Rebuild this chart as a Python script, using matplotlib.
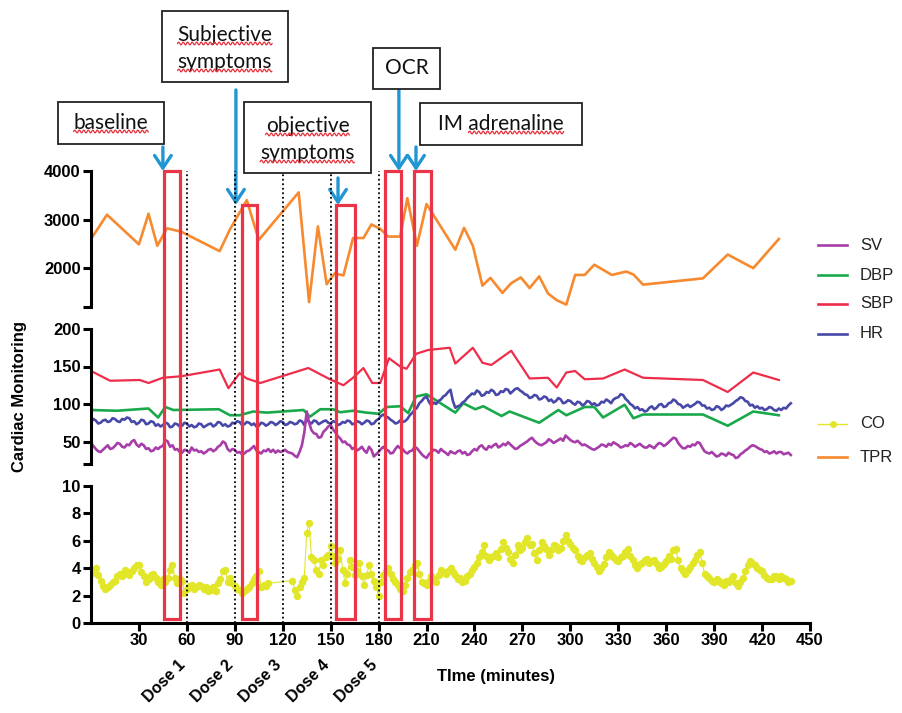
import matplotlib
matplotlib.use('Agg')
import matplotlib.pyplot as plt
import numpy as np
from matplotlib.patches import Rectangle
from matplotlib.lines import Line2D
from matplotlib.transforms import blended_transform_factory
from matplotlib.font_manager import FontProperties

plt.rcParams['font.family'] = ['Liberation Sans', 'DejaVu Sans']

# --- total peripheral resistance (top panel) ---
tpr_time = [0, 10, 30, 36, 41.5, 47.5, 56.5, 80.5, 87, 97.5, 105, 130, 136.5, 142,
            147.5, 152.5, 158, 164, 170.5, 175.5, 181, 186, 193.5, 198, 204, 210,
            228, 233.5, 239, 245, 250, 257.5, 263, 269, 274.5, 280.5, 286, 291.5,
            297.5, 303, 309, 315, 326, 335, 339.5, 345.5, 383, 398.5, 414.5, 430.5]
tpr = [2600, 3100, 2490, 3120, 2460, 2820, 2750, 2350, 2800, 3400, 2580, 3560, 1300, 2860,
       1670, 1890, 1850, 2620, 2620, 2900, 2810, 2650, 2650, 3440, 2460, 3320,
       2380, 2830, 2460, 1640, 1800, 1490, 1690, 1810, 1590, 1830, 1480, 1340,
       1250, 1860, 1860, 2070, 1860, 1930, 1870, 1660, 1790, 2280, 2000, 2600]

# --- blood pressure (middle panel) ---
sbp_time = [0, 12, 30.5, 36, 45, 56.5, 80.5, 86, 93, 97.5, 106, 136, 149.5, 158, 164,
            170.5, 176, 181, 186.5, 193.5, 197.5, 203.5, 211, 224.5, 228, 239, 245,
            250.5, 263, 274.5, 286, 291.5, 297.5, 303, 309, 320.5, 334, 345.5, 383,
            398.5, 414.5, 430.5]
sbp = [144, 131, 132, 128, 135, 137, 146, 121, 141, 134, 128, 148, 133, 125, 135,
       148, 128, 128, 161, 150, 147, 167, 172, 175, 154, 175, 155,
       152, 171, 134, 135, 122, 142, 144, 133, 134, 146, 135, 132,
       116, 142, 132]

dbp_time = [0, 16, 36, 42, 46.5, 51.5, 80, 87, 93, 101.5, 110, 133, 137, 143.5, 151.5,
            156, 164, 172.5, 180, 185, 193.5, 198.5, 203.5, 210, 228, 233, 240.5,
            245.5, 257, 262, 280.5, 292.5, 297.5, 309, 315, 320.5, 334, 339.5, 345.5,
            383, 398.5, 414.5, 430.5]
dbp = [92, 91, 94, 82, 96, 92, 93, 85, 85, 90, 88.5, 92, 83, 93, 93,
       89, 91, 88.5, 87, 96, 97, 88, 110, 113, 88.5, 101, 93,
       97, 84, 90, 75, 92, 85, 96, 96, 82, 99, 81, 86,
       86, 71, 90, 85]

# heart rate and stroke volume, every 1.5 min from t = 0 (one row = 30 min)
hr = [76, 80, 78, 74, 75, 78, 79, 76, 77, 81, 80, 77, 76, 80, 79, 82, 81, 76, 77, 73,
      75, 79, 78, 73, 74, 77, 76, 71, 73, 70, 72, 75, 74, 69, 70, 74, 73, 70, 71, 75,
      74, 70, 72, 69, 70, 74, 73, 69, 71, 73, 74, 70, 72, 76, 75, 71, 73, 70, 71, 75,
      74, 77, 76, 72, 73, 76, 75, 72, 74, 70, 71, 75, 74, 71, 73, 76, 75, 72, 74, 77,
      76, 72, 73, 76, 75, 73, 74, 78, 77, 72, 80, 76, 74, 78, 77, 73, 75, 77, 78, 75,
      74, 77, 76, 72, 73, 76, 75, 78, 77, 73, 74, 77, 76, 73, 75, 78, 77, 73, 74, 78,
      80, 84, 86, 83, 82, 79, 77, 74, 75, 78, 76, 77, 80, 85, 88, 92, 95, 101, 104, 108,
      110, 103, 98, 102, 100, 104, 106, 110, 112, 116, 119, 104, 95, 97, 98, 102, 104, 108, 111, 114,
      113, 118, 116, 111, 112, 116, 115, 119, 117, 112, 113, 117, 116, 120, 119, 114, 117, 120, 121, 118,
      116, 113, 112, 108, 109, 112, 111, 106, 107, 110, 109, 104, 106, 102, 104, 108, 106, 101, 102, 105,
      104, 101, 99, 103, 102, 98, 100, 104, 103, 99, 101, 98, 99, 103, 102, 106, 104, 101, 106, 108,
      109, 113, 112, 107, 104, 100, 98, 94, 96, 92, 93, 90, 91, 95, 97, 93, 95, 99, 100, 96,
      97, 101, 102, 106, 104, 100, 99, 95, 97, 99, 96, 98, 100, 103, 102, 98, 98, 94, 95, 92,
      93, 97, 96, 92, 94, 98, 97, 99, 101, 104, 106, 109, 108, 104, 103, 98, 99, 95, 97, 94,
      95, 92, 93, 96, 95, 92, 91, 94, 92, 95, 94, 98, 101]

sv = [48, 44, 40, 37, 36, 39, 42, 45, 40, 41, 44, 48, 47, 43, 42, 46, 45, 50, 52, 46,
      43, 47, 45, 40, 41, 37, 38, 42, 40, 43, 44, 52, 50, 43, 45, 39, 40, 36, 35, 39,
      38, 35, 42, 38, 39, 36, 37, 34, 36, 39, 40, 37, 39, 43, 45, 50, 48, 40, 37, 40,
      39, 35, 36, 33, 34, 37, 38, 41, 44, 38, 36, 34, 38, 37, 40, 36, 39, 35, 38, 36,
      37, 39, 36, 35, 34, 31, 29, 36, 45, 62, 90, 75, 65, 61, 60, 55, 56, 63, 66, 70,
      72, 66, 62, 57, 54, 49, 50, 46, 45, 40, 42, 38, 40, 43, 38, 35, 43, 39, 30, 33,
      36, 40, 43, 39, 38, 34, 35, 40, 44, 41, 40, 36, 34, 37, 38, 43, 41, 37, 33, 30,
      28, 33, 36, 39, 38, 35, 40, 37, 35, 32, 37, 35, 34, 37, 38, 34, 36, 32, 33, 37,
      40, 38, 43, 45, 41, 39, 44, 42, 45, 47, 42, 44, 47, 45, 49, 46, 43, 40, 41, 44,
      46, 48, 50, 53, 55, 51, 48, 46, 45, 47, 49, 53, 51, 48, 50, 52, 54, 51, 58, 55,
      52, 50, 49, 51, 48, 45, 46, 44, 42, 40, 39, 41, 43, 46, 45, 43, 47, 45, 49, 47,
      45, 42, 43, 45, 44, 48, 46, 43, 45, 47, 44, 42, 42, 45, 43, 41, 45, 48, 47, 44,
      46, 49, 52, 55, 54, 48, 44, 41, 41, 44, 43, 46, 45, 49, 48, 42, 37, 35, 34, 36,
      33, 30, 31, 34, 33, 31, 35, 33, 32, 28, 29, 33, 35, 38, 40, 43, 45, 44, 42, 40,
      39, 36, 37, 34, 35, 37, 34, 36, 36, 33, 34, 35, 32]

# --- cardiac output (bottom panel), every 1.5 min, None = no reading ---
co = [3.6, 3.9, 4.0, 3.5, 3.1, 2.7, 2.5, 2.6, 2.8, 3.0, 3.1, 3.4, 3.6, 3.4, 3.9, 3.7, 3.5, 3.8, 4.0, 4.2,
      4.2, 3.7, 3.4, 3.0, 3.2, 3.5, 3.6, 3.3, 3.0, 2.8, 3.2, 3.0, 3.3, 3.9, 4.2, 3.3, 2.9, 3.2, 3.1, 2.2,
      2.5, 2.7, 2.8, 2.5, 2.6, 2.8, 2.7, 2.5, 2.6, 2.3, 2.4, 2.6, 2.3, 2.9, 3.2, 3.8, 3.9, 3.0, 3.3, 2.9,
      2.7, 2.5, 2.4, 2.2, 2.3, 2.5, 2.6, 2.9, 3.2, 3.4, 3.8, 2.6, 2.8, 2.7, 2.9, None, None, None, None, None,
      None, None, None, None, 3.1, 2.4, 2.0, 2.6, 3.0, 3.3, 6.6, 7.3, 4.8, 4.6, 3.9, 3.6, 4.6, 4.2, 4.8, 5.0,
      5.6, 4.9, 4.4, 4.7, 5.3, 3.9, 2.9, 3.6, 4.6, 4.1, 3.5, 3.8, 4.4, 3.4, 2.8, 3.5, 4.2, 3.6, 3.1, 2.6,
      2.0, 3.0, 3.5, 3.8, 4.0, 3.6, 3.2, 3.0, 2.8, 2.5, 2.3, 2.8, 3.3, 3.7, 3.9, 4.2, 4.4, 3.6, 3.0, 2.9,
      2.8, 3.1, 3.4, 3.2, 3.0, 3.5, 3.9, 3.7, 3.6, 3.8, 4.0, 3.7, 3.5, 3.2, 3.3, 3.0, 3.1, 3.4, 3.6, 3.9,
      4.1, 4.4, 4.8, 5.2, 5.7, 4.9, 4.6, 4.8, 4.9, 5.1, 4.8, 5.4, 5.9, 5.5, 5.2, 4.7, 4.4, 5.0, 5.7, 5.3,
      5.5, 5.9, 6.2, 5.7, 5.8, 5.1, 4.6, 5.3, 5.9, 5.6, 5.4, 5.0, 5.3, 5.7, 5.6, 5.3, 5.5, 6.0, 6.4, 6.0,
      5.8, 5.5, 5.3, 4.9, 4.6, 4.5, 4.8, 5.0, 5.1, 4.7, 4.4, 4.1, 3.8, 4.0, 4.3, 4.8, 5.2, 5.0, 4.8, 4.6,
      4.5, 4.8, 4.9, 5.2, 5.4, 4.9, 4.6, 4.2, 4.0, 4.3, 4.4, 4.6, 4.7, 4.4, 4.5, 4.6, 4.3, 4.0, 4.1, 4.3,
      4.5, 4.9, 4.7, 5.3, 5.4, 4.6, 4.0, 3.8, 3.6, 3.9, 4.1, 4.4, 4.6, 5.0, 5.2, 4.4, 3.6, 3.4, 3.3, 3.1,
      3.0, 3.2, 3.1, 2.9, 2.8, 3.1, 3.0, 3.2, 3.4, 2.9, 2.7, 3.0, 3.3, 3.8, 4.2, 4.5, 4.4, 4.2, 4.0, 3.9,
      3.8, 3.5, 3.3, 3.2, 3.2, 3.4, 3.4, 3.2, 3.4, 3.3, 3.2, 3.0, 3.1]

# doses and marked events
dose_time = [60, 90, 120, 150, 180]
dose_labels = ['Dose 1', 'Dose 2', 'Dose 3', 'Dose 4', 'Dose 5']
event_start = [45.4, 94.2, 153.6, 183.7, 202.4]
event_end = [56, 104.2, 165.5, 194.3, 213.1]
event_top = [4000, 3300, 3300, 4000, 4000]
event_labels = ['baseline', 'Subjective\nsymptoms', 'objective\nsymptoms', 'OCR', 'IM adrenaline']
arrow_time = [45, 90.7, 154.6, 192.7, 203.4]
# words the text editor flagged with a squiggle
flagged = {'baseline', 'Subjective', 'symptoms', 'objective', 'adrenaline'}

c_sv, c_dbp, c_sbp, c_hr = '#A63DA8', '#19A94B', '#EE2D4B', '#4848A8'
c_co, c_tpr = '#E1E629', '#F7892F'
c_box = '#EA3447'
c_arrow = '#2196D3'

W, H = 902, 713
fig = plt.figure(figsize=(W / 100, H / 100), dpi=100)


def panel(top, bottom):
    return fig.add_axes([91 / W, 1 - bottom / H, (810 - 91) / W, (bottom - top) / H])


ax_tpr = panel(171, 307)
ax_bp = panel(329, 464)
ax_co = panel(486, 623)

for ax in (ax_tpr, ax_bp, ax_co):
    ax.set_xlim(0, 450)
    ax.spines['top'].set_visible(False)
    ax.spines['right'].set_visible(False)
    ax.spines['left'].set_linewidth(2.2)
    ax.spines['bottom'].set_linewidth(2.2)
    ax.tick_params(direction='out', length=6, width=2.2, labelsize=12, pad=1.5)
    ax.patch.set_alpha(0)
for ax in (ax_tpr, ax_bp):
    ax.spines['bottom'].set_visible(False)
    ax.tick_params(axis='x', bottom=False, labelbottom=False)

ax_tpr.set_ylim(1200, 4000)
ax_tpr.set_yticks([1200, 2000, 3000, 4000], ['', '2000', '3000', '4000'])
ax_bp.set_ylim(20, 200)
ax_bp.set_yticks([20, 50, 100, 150, 200], ['', '50', '100', '150', '200'])
ax_co.set_ylim(0, 10)
ax_co.set_yticks(range(0, 11, 2))
ax_co.set_xticks(range(30, 451, 30))
for ax in (ax_tpr, ax_bp, ax_co):
    for lab in ax.get_yticklabels() + ax.get_xticklabels():
        lab.set_fontweight('bold')

ax_tpr.plot(tpr_time, tpr, color=c_tpr, lw=1.9)

ax_bp.plot(sbp_time, sbp, color=c_sbp, lw=1.6)
ax_bp.plot(dbp_time, dbp, color=c_dbp, lw=1.9)
ax_bp.plot(np.arange(len(hr)) * 1.5, hr, color=c_hr, lw=1.9)
ax_bp.plot(np.arange(len(sv)) * 1.5, sv, color=c_sv, lw=1.9)

co_arr = np.array(co, dtype=float)
co_t = np.arange(len(co)) * 1.5
ok = ~np.isnan(co_arr)
ax_co.plot(co_t[ok], co_arr[ok], color=c_co, lw=0.8, marker='o', ms=4.3, mec=c_co)

# red event boxes and dotted dose lines span all three panels
to_fig = fig.transFigure.inverted()


def fig_xy(ax, x, y):
    return to_fig.transform(ax.transData.transform((x, y)))


for x0, x1, top in zip(event_start, event_end, event_top):
    fx0, fy1 = fig_xy(ax_tpr, x0, top)
    fx1, fy0 = fig_xy(ax_co, x1, 0.3)
    fig.add_artist(Rectangle((fx0, fy0), fx1 - fx0, fy1 - fy0, transform=fig.transFigure,
                             fill=False, ec=c_box, lw=2.3, zorder=6))

for d in dose_time:
    fx, fy1 = fig_xy(ax_tpr, d, 4000)
    _, fy0 = fig_xy(ax_co, d, 0)
    fig.add_artist(Line2D([fx, fx], [fy0, fy1], transform=fig.transFigure,
                          color='black', lw=1.3, ls=(0, (1, 1.5)), zorder=4))

trans_dose = blended_transform_factory(ax_co.transData, ax_co.transAxes)
for d, lab in zip(dose_time, dose_labels):
    ax_co.text(d + 1, -0.25, lab, transform=trans_dose, rotation=45, ha='right', va='top',
               fontsize=11.5, fontweight='bold')

fig.text(496 / W, 1 - 677 / H, 'TIme (minutes)', ha='center', va='center',
         fontsize=12, fontweight='bold')
fig.text(20 / W, 1 - 397 / H, 'Cardiac Monitoring', rotation=90, ha='center', va='center',
         fontsize=12, fontweight='bold')

# annotation boxes with arrows
note_px = [(58, 102, 164, 144), (162, 11, 288, 82), (244, 102, 371, 173),
           (373, 48, 440, 89), (420, 103, 582, 145)]
tail_px = [147, 90, 178, 90, 147]
note_font = FontProperties(family='Lato', size=15)
note_lines = []
for (x0, y0, x1, y1), txt in zip(note_px, event_labels):
    fig.add_artist(Rectangle((x0 / W, 1 - y1 / H), (x1 - x0) / W, (y1 - y0) / H,
                             transform=fig.transFigure, fill=True, fc='white',
                             ec='#222222', lw=1.3, zorder=7))
    lines = txt.split('\n')
    yc = (y0 + y1) / 2 + (2 if len(lines) > 1 else 0)
    for i, line in enumerate(lines):
        ly = yc + (i - (len(lines) - 1) / 2) * 27
        t = fig.text((x0 + x1) / 2 / W, 1 - ly / H, line, ha='center', va='center',
                     fontproperties=note_font, color='#111111', zorder=8)
        note_lines.append(t)

# red squiggles under the flagged words
renderer = fig.canvas.get_renderer()


def text_width(s):
    return renderer.get_text_width_height_descent(s, note_font, ismath=False)[0]


for t in note_lines:
    bb = t.get_window_extent(renderer)
    s = t.get_text()
    pos = 0
    for word in s.split(' '):
        if word in flagged:
            wx0 = bb.x0 + text_width(s[:pos]) if pos else bb.x0
            wx1 = wx0 + text_width(word)
            xs = np.arange(wx0, wx1, 0.5)
            ys = bb.y0 + 1.5 + 1.4 * np.sin(2 * np.pi * (xs - wx0) / 4.5)
            fig.add_artist(Line2D(xs / W, ys / H, transform=fig.transFigure,
                                  color='#E8303A', lw=0.9, zorder=9))
        pos += len(word) + 1

arrow_trans = blended_transform_factory(ax_tpr.transData, fig.transFigure)
for t, top, ty in zip(arrow_time, event_top, tail_px):
    ax_tpr.annotate('', xy=(t, top), xycoords='data', xytext=(t, 1 - ty / H),
                    textcoords=arrow_trans, annotation_clip=False,
                    arrowprops=dict(arrowstyle='->, head_length=0.45, head_width=0.3',
                                    color=c_arrow, lw=2.4, mutation_scale=20,
                                    shrinkA=0, shrinkB=0))

# legend, two groups
legend_rows = [('SV', c_sv, 245, False), ('DBP', c_dbp, 275, False), ('SBP', c_sbp, 304, False),
               ('HR', c_hr, 334, False), ('CO', c_co, 424, True), ('TPR', c_tpr, 457, False)]
for name, col, y, dot in legend_rows:
    fy = 1 - y / H
    fig.add_artist(Line2D([818 / W, 847 / W], [fy, fy], transform=fig.transFigure, color=col,
                          lw=1.0 if dot else 1.9))
    if dot:
        fig.add_artist(Line2D([832.5 / W], [fy], transform=fig.transFigure, color=col,
                              marker='o', ms=4))
    fig.text(860 / W, fy, name, ha='left', va='center', fontsize=12, color='#222222')

fig.savefig('out.png', dpi=100)
